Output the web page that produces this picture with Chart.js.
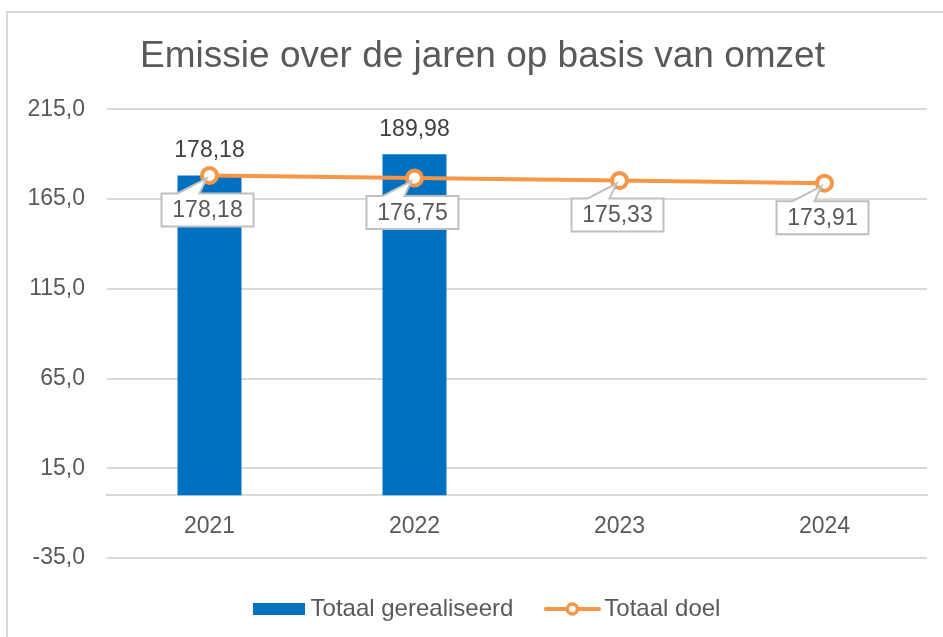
<!DOCTYPE html>
<html>
<head>
<meta charset="utf-8">
<script src="https://cdn.jsdelivr.net/npm/chart.js@4.4.1/dist/chart.umd.min.js"></script>
<style>
  html, body { margin: 0; padding: 0; background: #fff; overflow: hidden; width: 943px; height: 637px; }
  #frame { position: absolute; left: 6px; top: 11px; width: 1000px; height: 700px; border: 2px solid #d9d9d9; }
  #c { position: absolute; left: 0; top: 0; }
</style>
</head>
<body>
<div id="frame"></div>
<canvas id="c" width="965" height="637"></canvas>
<script>
// ── Data ───────────────────────────────────────────────────────────
const years        = ["2021", "2022", "2023", "2024"];
const gerealiseerd = [178.18, 189.98, null, null];
const doel         = [178.18, 176.75, 175.33, 173.91];
const yTicks       = [-35, 15, 65, 115, 165, 215];

const BLUE   = "#0070C0";
const ORANGE = "#F79646";
const GRID   = "#d9d9d9";
const TEXT   = "#595959";

const fmt = (v, d) => v.toFixed(d).replace(".", ",");

Chart.defaults.font.family = "'Liberation Sans', Arial, sans-serif";
Chart.defaults.color = TEXT;

// ── Legend markers ─────────────────────────────────────────────────
function barMarker() {
  const cv = document.createElement("canvas");
  cv.width = 52; cv.height = 12;
  const g = cv.getContext("2d");
  g.fillStyle = BLUE;
  g.fillRect(0, 0, 52, 12);
  return cv;
}

function lineMarker() {
  const cv = document.createElement("canvas");
  cv.width = 57; cv.height = 16;
  const g = cv.getContext("2d");
  g.strokeStyle = ORANGE;
  g.lineWidth = 4;
  g.lineCap = "round";
  g.beginPath(); g.moveTo(2, 8); g.lineTo(55, 8); g.stroke();
  g.beginPath(); g.arc(28.5, 8, 5, 0, Math.PI * 2);
  g.fillStyle = "#fff"; g.fill();
  g.lineWidth = 3.5; g.stroke();
  return cv;
}

// ── Labels: values above bars, callouts under line points ─────────
const labelPlugin = {
  id: "labels",
  afterLayout(chart) {
    // Excel centres the legend a little to the right of the title
    chart.legend.left += 7;
    chart.legend.right += 7;
  },
  afterDatasetsDraw(chart) {
    const ctx = chart.ctx;
    ctx.save();
    ctx.font = "23px 'Liberation Sans', Arial, sans-serif";
    ctx.textAlign = "center";
    ctx.textBaseline = "middle";

    // bar values
    const barMeta = chart.getDatasetMeta(0);
    barMeta.data.forEach((el, i) => {
      const v = gerealiseerd[i];
      if (v == null) return;
      ctx.fillStyle = "#404040";
      ctx.fillText(fmt(v, 2), el.x, el.y - 25);
    });

    // callouts for the line
    const lineMeta = chart.getDatasetMeta(1);
    lineMeta.data.forEach((el, i) => {
      const px = el.x, py = el.y;
      const w = 92, h = 33;
      const left = px - w / 2 - 2, top = py + 18;
      ctx.beginPath();
      ctx.moveTo(left, top);
      ctx.lineTo(left + 16, top);
      ctx.lineTo(px - 3, py + 3);
      ctx.lineTo(left + 38, top);
      ctx.lineTo(left + w, top);
      ctx.lineTo(left + w, top + h);
      ctx.lineTo(left, top + h);
      ctx.closePath();
      ctx.fillStyle = "#fff";
      ctx.fill();
      ctx.lineWidth = 2;
      ctx.strokeStyle = "#bfbfbf";
      ctx.stroke();
      ctx.fillStyle = TEXT;
      ctx.fillText(fmt(doel[i], 2), left + w / 2, top + h / 2 + 1);
    });
    ctx.restore();
  },
};

new Chart(document.getElementById("c"), {
  data: {
    labels: years,
    datasets: [
      {
        type: "bar",
        label: "Totaal gerealiseerd",
        data: gerealiseerd,
        backgroundColor: BLUE,
        categoryPercentage: 1,
        barPercentage: 0.312,
        order: 2,
      },
      {
        type: "line",
        label: "Totaal doel",
        data: doel,
        borderColor: ORANGE,
        borderWidth: 4,
        pointRadius: 7.5,
        pointBorderWidth: 4,
        pointBackgroundColor: "#fff",
        pointBorderColor: ORANGE,
        tension: 0,
        order: 1,
      },
    ],
  },
  options: {
    responsive: false,
    animation: false,
    layout: { padding: { left: 0, right: 0, top: 0, bottom: 6 } },
    plugins: {
      tooltip: { enabled: false },
      title: {
        display: true,
        text: "Emissie over de jaren op basis van omzet",
        color: TEXT,
        font: { size: 37, weight: "normal", lineHeight: 1.2 },
        padding: { top: 35, bottom: 30 },
      },
      legend: {
        position: "bottom",
        labels: {
          usePointStyle: true,
          pointStyleWidth: 40,
          padding: 39,
          color: TEXT,
          font: { size: 24 },
          generateLabels: () => [
            { text: "Totaal gerealiseerd", pointStyle: barMarker(), fontColor: TEXT, datasetIndex: 0, lineWidth: 0 },
            { text: "Totaal doel", pointStyle: lineMarker(), fontColor: TEXT, datasetIndex: 1, lineWidth: 0 },
          ],
        },
      },
    },
    scales: {
      x: {
        position: { y: 0 },
        grid: { display: false },
        border: { display: true, color: GRID, width: 2 },
        ticks: { padding: 10, color: TEXT, font: { size: 23 } },
      },
      y: {
        min: -35,
        max: 215,
        afterBuildTicks: (scale) => { scale.ticks = yTicks.map((v) => ({ value: v })); },
        afterFit: (scale) => { scale.width = 107; },
        grid: { color: GRID, lineWidth: 2, drawTicks: false },
        border: { display: false },
        ticks: { padding: 22, color: TEXT, font: { size: 23 }, callback: (v) => fmt(v, 1) },
      },
      // empty right-hand strip so the plot ends where Excel's does
      yr: {
        type: "linear",
        position: "right",
        display: true,
        grid: { display: false },
        border: { display: false },
        ticks: { display: false },
        afterFit: (scale) => { scale.width = 38; },
      },
    },
  },
  plugins: [labelPlugin],
});
</script>
</body>
</html>
